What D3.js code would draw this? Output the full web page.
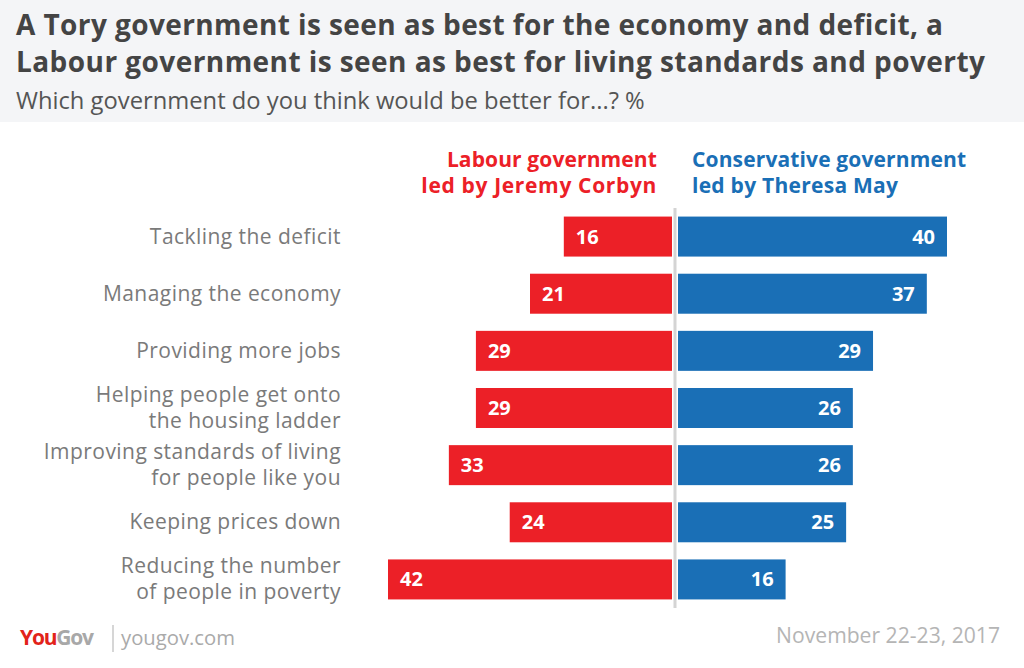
<!DOCTYPE html>
<html><head><meta charset="utf-8">
<script src="https://cdn.jsdelivr.net/npm/d3@7/dist/d3.min.js"></script>
<style>body{margin:0;background:#fff}svg{display:block}</style>
</head><body><svg id="c" width="1024" height="668"></svg>
<script>
const categories = [
  ["Tackling the deficit"],
  ["Managing the economy"],
  ["Providing more jobs"],
  ["Helping people get onto","the housing ladder"],
  ["Improving standards of living","for people like you"],
  ["Keeping prices down"],
  ["Reducing the number","of people in poverty"]
];
const labourValues = [16,21,29,29,33,24,42];
const conservativeValues = [40,37,29,26,26,25,16];
const seriesNames = [["Labour government","led by Jeremy Corbyn"],["Conservative government","led by Theresa May"]];
const titleLines = ["A Tory government is seen as best for the economy and deficit, a","Labour government is seen as best for living standards and poverty"];
const subtitle = "Which government do you think would be better for...? %";
const dateText = "November 22-23, 2017";

const FONT = "'Open Sans', Lato, sans-serif";
const RED = "#ec2027", BLUE = "#1a6fb6";
const svg = d3.select("#c");
svg.append("rect").attr("x",0).attr("y",0).attr("width",1024).attr("height",122).attr("fill","#f4f5f7");

// fit text to target widths (letter-spacing)
function fit(sel, w){ sel.each(function(){ const bb=this.getComputedTextLength(); if(bb>0){ const ls=(w-bb)/Math.max(1,this.textContent.length-1); d3.select(this).attr("letter-spacing",ls);} }); }
// fit text to target widths (font size)
function fitSize(sel, w){ sel.each(function(){ const bb=this.getComputedTextLength(); const fs=+d3.select(this).attr("font-size"); if(bb>0) d3.select(this).attr("font-size", fs*w/bb); }); }

const titleW = [927, 969];
svg.selectAll("text.title").data(titleLines).join("text").attr("class","title")
  .attr("x",16).attr("y",(d,i)=>35+i*37).attr("font-family",FONT).attr("font-weight",700)
  .attr("font-size",28).attr("fill","#444").text(d=>d)
  .each(function(d,i){ fit(d3.select(this), titleW[i]); });
svg.append("text").attr("x",16).attr("y",109).attr("font-family",FONT).attr("font-weight",400)
  .attr("font-size",22).attr("fill","#555").text(subtitle).call(fitSize, 629);

const center = 675;
const xL = d3.scaleLinear().domain([0,42]).range([672, 388]);
const xR = d3.scaleLinear().domain([0,40]).range([678, 947]);
const y = d3.scaleBand().domain(d3.range(categories.length)).range([208, 608]).paddingInner(0.3).paddingOuter(0.15);

// legend headers
seriesNames[0].forEach((t,i)=>svg.append("text").attr("x",657).attr("y",167+i*26).attr("text-anchor","end")
  .attr("font-family",FONT).attr("font-weight",700).attr("font-size",21).attr("fill",RED).text(t).call(fit, [210,235][i]));
seriesNames[1].forEach((t,i)=>svg.append("text").attr("x",692).attr("y",167+i*26)
  .attr("font-family",FONT).attr("font-weight",700).attr("font-size",21).attr("fill",BLUE).text(t).call(fit, [274,206][i]));

const g = svg.append("g");
g.selectAll("rect.l").data(labourValues).join("rect").attr("class","l")
  .attr("x",d=>xL(d)).attr("width",d=>xL(0)-xL(d)).attr("y",(d,i)=>y(i)).attr("height",y.bandwidth()).attr("fill",RED);
g.selectAll("rect.r").data(conservativeValues).join("rect").attr("class","r")
  .attr("x",xR(0)).attr("width",d=>xR(d)-xR(0)).attr("y",(d,i)=>y(i)).attr("height",y.bandwidth()).attr("fill",BLUE);
g.append("line").attr("x1",center).attr("x2",center).attr("y1",208).attr("y2",608).attr("stroke","#d4d4d4").attr("stroke-width",3);

g.selectAll("text.lv").data(labourValues).join("text").attr("class","lv")
  .attr("x",d=>xL(d)+12).attr("y",(d,i)=>y(i)+y.bandwidth()/2+7).attr("font-family",FONT).attr("font-weight",700)
  .attr("font-size",20).attr("fill","#fff").text(d=>d);
g.selectAll("text.rv").data(conservativeValues).join("text").attr("class","rv")
  .attr("x",d=>xR(d)-12).attr("y",(d,i)=>y(i)+y.bandwidth()/2+7).attr("text-anchor","end").attr("font-family",FONT).attr("font-weight",700)
  .attr("font-size",20).attr("fill","#fff").text(d=>d);

const cat = g.selectAll("text.cat").data(categories).join("text").attr("class","cat")
  .attr("text-anchor","end").attr("font-family",FONT).attr("font-weight",400).attr("font-size",21).attr("letter-spacing",0.45).attr("fill","#7a7a7a");
cat.each(function(lines,i){
  const cy = y(i)+y.bandwidth()/2;
  const n = lines.length;
  d3.select(this).selectAll("tspan").data(lines).join("tspan").attr("x",341)
    .attr("y",(d,j)=>cy+7+(j-(n-1)/2)*26).text(d=>d);
});

// footer
const ft = svg.append("text").attr("x",20).attr("y",645).attr("font-family",FONT).attr("font-weight",700).attr("font-size",21).attr("letter-spacing",-1.2);
ft.append("tspan").attr("fill","#e2231a").text("You");
ft.append("tspan").attr("fill","#a8a8a8").text("Gov");
svg.append("line").attr("x1",113).attr("x2",113).attr("y1",625).attr("y2",652).attr("stroke","#bbb").attr("stroke-width",1.2);
svg.append("text").attr("x",121).attr("y",645).attr("font-family",FONT).attr("font-weight",400).attr("font-size",21).attr("fill","#aaa").text("yougov.com").call(fitSize,114);
svg.append("text").attr("x",1000).attr("y",643).attr("text-anchor","end").attr("font-family",FONT).attr("font-weight",400).attr("font-size",21).attr("fill","#b5b5b5").text(dateText).call(fitSize,224);
</script></body></html>
